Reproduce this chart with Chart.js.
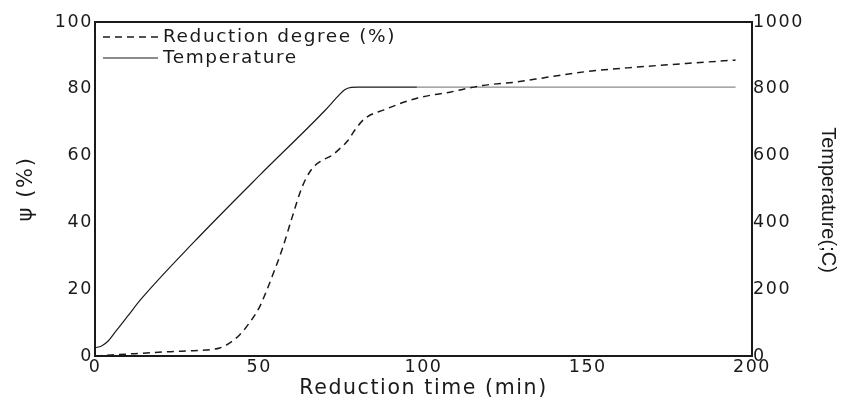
<!DOCTYPE html>
<html>
<head>
<meta charset="utf-8">
<script src="https://cdn.jsdelivr.net/npm/chart.js@4/dist/chart.umd.min.js"></script>
<style>
  html, body { margin: 0; padding: 0; background: #fff; }
  #wrap { width: 843px; height: 401px; }
</style>
</head>
<body>
<div id="wrap"><canvas id="chart"></canvas></div>
<script>
// Reduction degree (%) vs. reduction time (min).
const redTime = [0, 5, 12, 23, 30, 35, 38, 40, 42, 44, 47, 50, 52, 54, 57, 60, 63, 66, 69, 72, 75, 77, 79, 82, 88, 98, 108, 118, 128, 138, 150, 165, 180, 195];
const redDegree = [0, 0.3, 0.7, 1.3, 1.6, 1.9, 2.4, 3.3, 4.6, 6.3, 9.9, 14.5, 19, 24, 32, 41.5, 50.5, 56, 58.5, 60, 62.5, 64.5, 67.5, 71, 73.7, 77.2, 79, 81, 82, 83.5, 85.2, 86.5, 87.6, 88.6];

// Furnace temperature, right axis.
const tempTime = [0, 2, 4, 6, 10, 14, 30, 50, 70, 74, 76, 78, 80, 98, 195];
const temperature = [25, 30, 45, 70, 120, 170, 340, 540, 735, 778, 797, 804, 805, 805, 805];

const xTicks = [0, 50, 100, 150, 200];
const psiTicks = [0, 20, 40, 60, 80, 100];
const tempTicks = [0, 200, 400, 600, 800, 1000];

const WIDE = "'DejaVu Sans', Verdana, sans-serif";
const ARIAL = "'Liberation Sans', Arial, sans-serif";
const INK = '#1a1a1a';
const SPACING = '1.6px';   // the original lettering is stretched wide

function pts(xs, ys) { return xs.map((x, i) => ({ x, y: ys[i] })); }

const spacing = {
  id: 'spacing',
  beforeUpdate(chart) { chart.ctx.letterSpacing = SPACING; },
  beforeDraw(chart) { chart.ctx.letterSpacing = SPACING; },
};

// closed frame + legend inside the plot + right axis title
const decor = {
  id: 'decor',
  afterDraw(chart) {
    const { ctx, chartArea: a } = chart;
    ctx.save();
    ctx.strokeStyle = INK;
    ctx.lineWidth = 2;
    ctx.beginPath();
    ctx.moveTo(a.left, a.top);
    ctx.lineTo(a.right, a.top);
    ctx.stroke();

    const x0 = a.left + 8, x1 = a.left + 63;
    ctx.font = '18.5px ' + WIDE;
    ctx.textBaseline = 'middle';
    chart.data.datasets.forEach((ds, i) => {
      const y = a.top + 15 + i * 21;
      ctx.beginPath();
      ctx.lineWidth = ds.borderWidth;
      ctx.setLineDash(ds.borderDash || []);
      ctx.moveTo(x0, y);
      ctx.lineTo(x1, y);
      ctx.stroke();
      ctx.setLineDash([]);
      ctx.fillStyle = INK;
      ctx.fillText(ds.label, x1 + 5, y);
    });

    ctx.letterSpacing = '0px';
    ctx.translate(828, 200);
    ctx.rotate(Math.PI / 2);
    ctx.font = '20px ' + ARIAL;
    ctx.textAlign = 'center';
    ctx.fillText('Temperature(;C)', 0, 0);
    ctx.restore();
  },
};

new Chart(document.getElementById('chart'), {
  type: 'line',
  data: {
    datasets: [
      {
        label: 'Reduction degree (%)',
        data: pts(redTime, redDegree),
        yAxisID: 'y',
        borderColor: INK,
        borderWidth: 1.5,
        borderDash: [7, 5],
        pointRadius: 0,
        cubicInterpolationMode: 'monotone',
      },
      {
        label: 'Temperature',
        data: pts(tempTime, temperature),
        yAxisID: 'y1',
        borderColor: INK,
        borderWidth: 1.2,
        pointRadius: 0,
        cubicInterpolationMode: 'monotone',
        segment: { borderColor: (c) => (c.p0.parsed.x >= 98 ? '#8a8a8a' : INK) },
      },
    ],
  },
  options: {
    responsive: true,
    maintainAspectRatio: false,
    animation: false,
    layout: { padding: { top: 22, left: 0, right: 0, bottom: 0 } },
    plugins: { legend: { display: false }, tooltip: { enabled: false } },
    scales: {
      x: {
        type: 'linear', min: 0, max: 200,
        afterBuildTicks: (s) => { s.ticks = xTicks.map((v) => ({ value: v })); },
        afterFit: (s) => { s.height = 45; },
        grid: { display: false, drawTicks: false },
        border: { color: INK, width: 2 },
        ticks: { color: INK, font: { family: WIDE, size: 17.5 }, padding: 1, maxRotation: 0, callback: (v) => String(v) },
        title: { display: true, text: 'Reduction time (min)', color: INK, font: { family: WIDE, size: 20.5 }, padding: { top: 0, bottom: 0 } },
      },
      y: {
        position: 'left', min: 0, max: 100,
        afterBuildTicks: (s) => { s.ticks = psiTicks.map((v) => ({ value: v })); },
        afterFit: (s) => { s.width = 95; },
        grid: { display: false, drawTicks: false },
        border: { color: INK, width: 2 },
        ticks: { color: INK, font: { family: WIDE, size: 17.5 }, padding: 2, callback: (v) => String(v) },
        title: { display: true, text: 'ψ (%)', color: INK, font: { family: WIDE, size: 21 }, padding: { top: 14, bottom: 0 } },
      },
      y1: {
        position: 'right', min: 0, max: 1000,
        afterBuildTicks: (s) => { s.ticks = tempTicks.map((v) => ({ value: v })); },
        afterFit: (s) => { s.width = 91; },
        grid: { display: false, drawTicks: false },
        border: { color: INK, width: 2 },
        ticks: { color: INK, font: { family: WIDE, size: 17.5 }, padding: 1, callback: (v) => String(v) },
      },
    },
  },
  plugins: [spacing, decor],
});
</script>
</body>
</html>
